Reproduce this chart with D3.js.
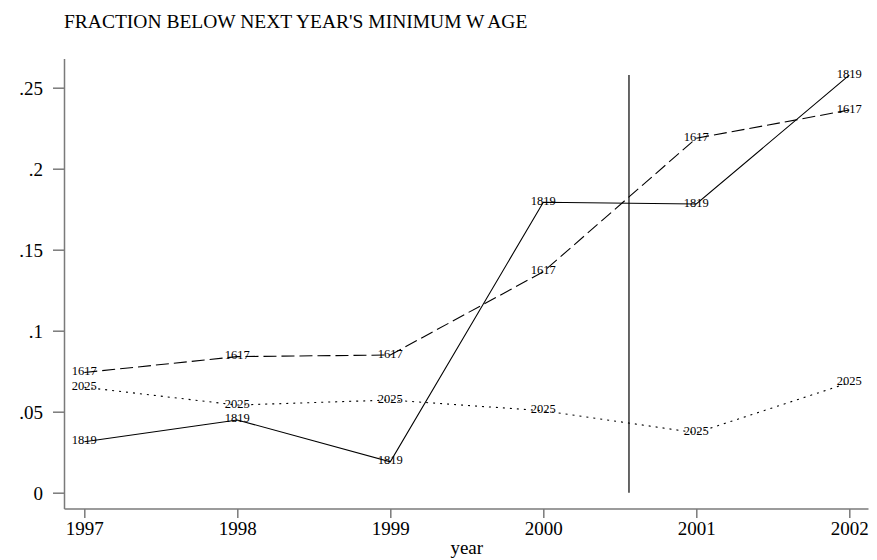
<!DOCTYPE html>
<html>
<head>
<meta charset="utf-8">
<script src="https://cdn.jsdelivr.net/npm/d3@7"></script>
<style>
  html, body { margin: 0; padding: 0; background: #fff; }
  svg { display: block; }
  text { font-family: "Liberation Serif", "Times New Roman", serif; fill: #000; }
</style>
</head>
<body>
<svg id="chart" width="877" height="560"></svg>
<script>
// Fraction of workers below next year's minimum wage, by age group
const years = [1997, 1998, 1999, 2000, 2001, 2002];
const age1617 = [0.0742, 0.0840, 0.0850, 0.1364, 0.2188, 0.2362];
const age1819 = [0.0315, 0.0449, 0.0191, 0.1793, 0.1782, 0.2578];
const age2025 = [0.0651, 0.0541, 0.0572, 0.0506, 0.0370, 0.0679];
const seriesNames = ["1617", "1819", "2025"];
const yTicks = [0, 0.05, 0.1, 0.15, 0.2, 0.25];
const yTickLabels = ["0", ".05", ".1", ".15", ".2", ".25"];
const policyYear = 2000.56;
const titleText = "FRACTION BELOW NEXT YEAR'S MINIMUM WAGE";
const xTitle = "year";

const svg = d3.select("#chart");

const x = d3.scaleLinear().domain([1997, 2002]).range([84.3, 849.3]);
const y = d3.scaleLinear().domain([0, 0.25]).range([492.7, 87.7]);

const axisColor = "#7a7a7a";
const axisX = 64.5, axisY = 509;

// title (the W/A gap mimics the original typesetting)
const t = svg.append("text")
  .attr("x", 64).attr("y", 28)
  .style("font-size", "19.5px");
t.append("tspan").text(titleText.slice(0, -3));
t.append("tspan").attr("dx", 5).text(titleText.slice(-3));

// axis lines
svg.append("line")
  .attr("x1", axisX).attr("x2", axisX).attr("y1", 59).attr("y2", axisY)
  .attr("stroke", axisColor).attr("stroke-width", 1.5);
svg.append("line")
  .attr("x1", axisX).attr("x2", 868.5).attr("y1", axisY).attr("y2", axisY)
  .attr("stroke", axisColor).attr("stroke-width", 1.5);

// y axis
const gy = svg.append("g").attr("transform", `translate(${axisX},0)`)
  .call(d3.axisLeft(y).tickValues(yTicks)
    .tickFormat((d, i) => yTickLabels[i]).tickSize(11.5).tickPadding(10));
gy.select(".domain").remove();
gy.selectAll(".tick line").attr("stroke", axisColor).attr("stroke-width", 1.5);
gy.selectAll(".tick text")
  .attr("dy", null).attr("y", 6.5)
  .style("font-family", "'Liberation Serif', serif").style("font-size", "19px");

// x axis
const gx = svg.append("g").attr("transform", `translate(0,${axisY})`)
  .call(d3.axisBottom(x).tickValues(years).tickFormat(d3.format("d"))
    .tickSize(9).tickPadding(12));
gx.select(".domain").remove();
gx.selectAll(".tick line").attr("stroke", axisColor).attr("stroke-width", 1.5);
gx.selectAll(".tick text")
  .attr("dy", null).attr("y", 26)
  .style("font-family", "'Liberation Serif', serif").style("font-size", "19px");

svg.append("text")
  .attr("x", (x(1997) + x(2002)) / 2).attr("y", 554)
  .attr("text-anchor", "middle").style("font-size", "19px")
  .text(xTitle);

// reference line for the minimum wage change
const yMax = d3.max([...age1617, ...age1819, ...age2025]);
svg.append("line")
  .attr("x1", x(policyYear)).attr("x2", x(policyYear))
  .attr("y1", y(0)).attr("y2", y(yMax))
  .attr("stroke", "#000").attr("stroke-width", 1.2);

// series
const series = [
  { name: seriesNames[0], values: age1617, dash: "13,5" },
  { name: seriesNames[1], values: age1819, dash: null },
  { name: seriesNames[2], values: age2025, dash: "2,5" }
];

const line = d3.line().x((d, i) => x(years[i])).y(d => y(d));

series.forEach(s => {
  svg.append("path")
    .datum(s.values)
    .attr("d", line)
    .attr("fill", "none")
    .attr("stroke", "#000")
    .attr("stroke-width", 1.1)
    .attr("stroke-dasharray", s.dash);

  svg.append("g").selectAll("text")
    .data(s.values)
    .join("text")
    .attr("x", (d, i) => x(years[i]))
    .attr("y", d => y(d) + 2.5)
    .attr("text-anchor", "middle")
    .style("font-size", "12.5px")
    .text(s.name);
});
</script>
</body>
</html>
